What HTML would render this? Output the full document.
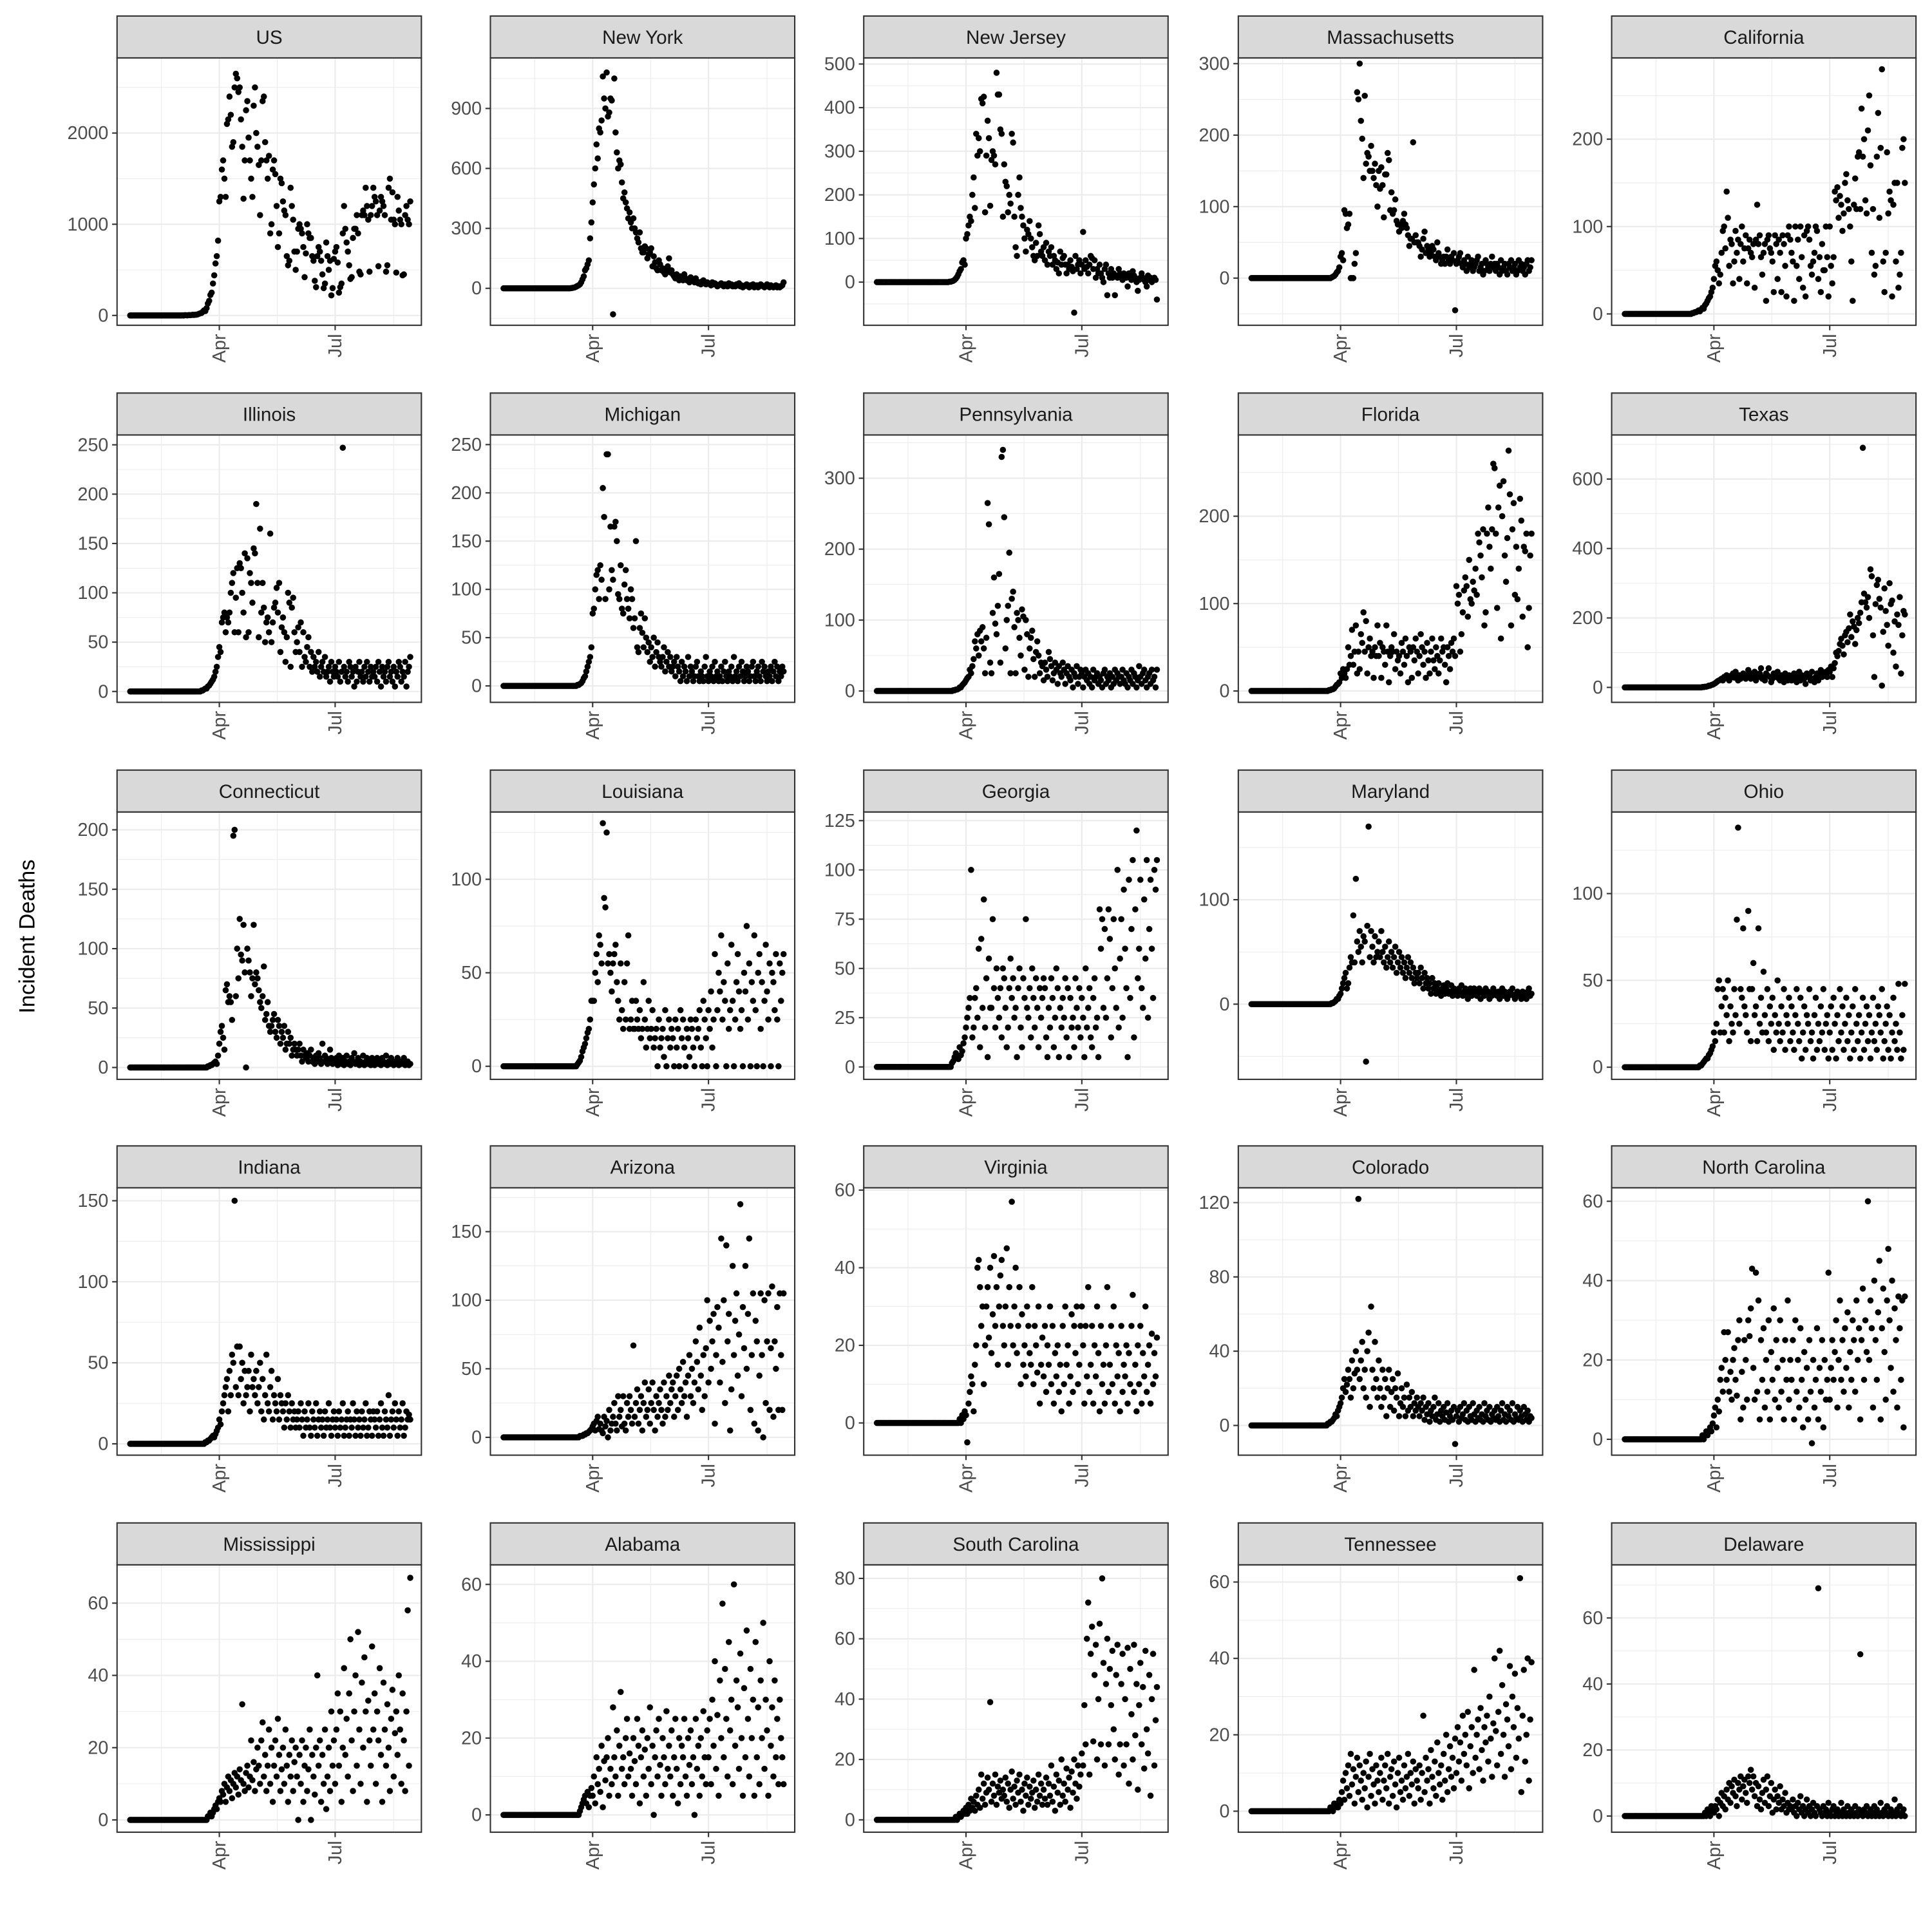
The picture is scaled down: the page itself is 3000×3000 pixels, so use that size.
<!DOCTYPE html>
<html><head><meta charset="utf-8"><title>Incident Deaths by State</title>
<style>
html,body{margin:0;padding:0;background:#fff;}
svg{display:block;}
text{font-family:"Liberation Sans",Arial,sans-serif;}
</style></head>
<body>
<svg id="chart" xmlns="http://www.w3.org/2000/svg" width="3000" height="3000" viewBox="0 0 1568 1568">
<rect x="0" y="0" width="1568" height="1568" fill="#fff"/>
<text x="28" y="760" font-size="18" fill="#000" text-anchor="middle" transform="rotate(-90 28 760)">Incident Deaths</text>
</svg>
<script>
const preMarch = [0,0,0,0,0,0,0,0,0,0,0,0,0,0,0,0,0,0,0,0,0,0,0,0,0,0,0,0,0,0,0,0,0,0,0,0,0,0,0];
const stateNames = ["US","New York","New Jersey","Massachusetts","California","Illinois","Michigan","Pennsylvania","Florida","Texas","Connecticut","Louisiana","Georgia","Maryland","Ohio","Indiana","Arizona","Virginia","Colorado","North Carolina","Mississippi","Alabama","South Carolina","Tennessee","Delaware"];
const yLimits = [[-108,2824],[-185,1153],[-99,514],[-66,308],[-13,293],[-11,260],[-17,260],[-16,361],[-13,293],[-43,727],[-10,215],[-7,136],[-6.3,129.4],[-72,184],[-7,147],[-7,158],[-13,182],[-8.3,60.6],[-16,128],[-4,63.4],[-3.4,70.6],[-4.5,65.1],[-4.1,84.5],[-5.5,64.5],[-4.9,76.1]];
const yTickStep = [1000,300,100,100,100,50,50,100,100,200,50,50,25,100,50,50,50,20,40,20,20,20,20,20,20];
const xTickLabels = ["Apr","Jul"];
const xTickDays = [70,161];
const xMinorDays = [24.5,115.5,207];

const US = [0,0,1,0,3,2,1,4,3,4,7,5,8,8,12,18,23,27,40,56,48,80,130,160,225,250,350,440,570,650,820,
1250,1300,1600,1700,1500,1300,2100,2150,2400,2200,1850,1900,2500,2650,2600,2450,2500,2150,1850,1280,1700,2250,2350,1950,1700,1500,1300,2300,2500,2000,
1850,1650,1100,1700,2350,2400,1900,1700,1500,1750,900,1000,1600,1700,1550,1200,750,900,1500,1450,1250,1150,1100,650,550,600,1400,1200,1050,700,500,
700,950,1000,950,900,750,420,680,1000,900,850,850,650,600,380,310,650,750,700,600,450,300,350,800,650,500,600,220,300,620,
700,750,580,250,310,350,900,1200,950,800,700,550,400,420,850,950,950,1100,900,480,450,1100,1150,1100,1400,1200,1050,480,1100,1200,1400,
1300,1250,1100,540,1150,1300,1250,1200,1100,480,550,1400,1500,1050,1350,1050,1000,470,1300,1150,1050,1000,440,450,1100,1200,1050,1000,1250];
const NY = [0,0,0,0,0,0,0,0,0,0,0,0,0,0,1,2,3,5,8,12,15,20,30,45,60,90,100,120,140,250,330,
430,520,600,720,650,800,780,840,1060,950,900,1080,860,880,950,940,-130,1050,780,680,600,640,620,530,450,480,430,400,350,380,
330,300,350,300,280,250,230,280,200,180,180,210,200,150,170,180,200,110,160,130,100,90,140,120,90,100,80,70,95,110,150,
80,90,70,60,50,70,50,40,60,50,40,70,50,40,45,30,55,40,35,30,50,35,25,30,20,35,40,25,20,30,
25,20,15,30,20,25,20,10,15,20,25,15,10,20,15,10,25,15,20,10,15,10,20,15,25,10,15,5,10,15,20,
10,5,15,10,20,5,10,15,5,10,20,15,10,5,10,20,10,5,15,10,5,10,15,5,10,5,10,15,30];
const NJ = [0,0,0,0,0,0,0,0,0,0,0,0,0,0,0,0,0,0,1,1,2,3,5,8,12,18,25,30,45,50,40,
100,110,130,150,140,200,240,170,340,290,330,300,420,410,425,160,290,370,330,175,280,300,290,270,480,430,430,350,340,150,
270,230,220,160,200,180,340,320,150,80,60,200,240,170,150,130,100,70,120,110,140,100,80,60,50,90,60,130,110,70,60,
80,50,90,40,70,60,80,40,60,50,30,45,20,70,40,55,60,40,20,40,30,50,35,25,-70,60,30,40,50,20,
40,115,30,50,35,20,40,60,55,30,50,10,30,20,40,20,10,0,30,40,-30,20,10,30,10,20,-30,15,10,30,20,
10,5,20,15,10,-10,20,10,5,25,15,10,0,-20,5,10,20,10,5,0,-10,15,5,10,0,5,10,5,-40];
const MA = [0,0,0,0,0,0,0,0,0,0,0,0,0,0,0,0,0,0,0,0,0,0,0,0,1,2,3,5,8,10,15,
30,35,25,95,90,70,75,90,0,0,0,20,35,260,250,300,220,195,140,255,160,175,170,150,185,150,140,160,130,100,
150,125,155,130,85,145,145,175,165,95,120,90,95,110,80,75,65,75,70,80,90,75,70,60,45,55,55,190,50,60,50,
50,45,30,40,55,65,35,45,40,30,35,45,40,30,25,50,35,30,20,25,30,20,30,40,25,20,30,25,35,-45,
20,25,30,35,20,15,25,20,10,30,15,20,25,10,15,20,25,30,10,15,20,5,10,25,20,15,10,20,30,15,20,
10,20,15,5,25,10,15,20,10,5,20,15,25,10,15,20,5,10,25,15,20,10,15,5,20,25,10,15,25];
const CA = [0,0,0,0,0,0,0,0,0,0,0,0,0,0,1,1,2,2,3,4,3,5,7,6,10,12,15,18,20,25,30,
40,55,60,50,35,45,70,95,100,75,140,110,55,85,80,35,60,95,70,85,40,80,100,60,75,90,35,75,85,70,
65,80,30,85,125,80,90,65,45,70,80,15,85,90,75,70,60,25,90,80,40,85,70,25,90,80,55,20,90,100,85,
70,60,15,100,55,85,40,100,65,30,90,20,95,100,85,55,45,60,70,100,95,40,65,25,80,50,50,100,65,20,
100,55,35,65,140,130,145,110,135,125,95,115,150,160,130,120,100,60,15,125,155,120,180,185,120,235,180,200,130,115,210,
250,170,70,120,45,55,180,230,110,190,280,60,25,70,185,115,140,130,20,125,150,60,150,30,45,70,190,200,150];
const IL = [0,0,0,0,0,0,0,0,0,0,0,0,0,0,0,0,0,1,1,2,3,3,5,6,8,10,12,15,20,25,35,
45,40,70,75,80,60,75,70,80,100,110,120,60,95,125,60,130,125,100,80,140,55,135,60,120,110,90,145,140,190,
110,55,165,80,110,85,50,70,75,60,160,50,70,85,90,105,80,110,40,65,75,60,30,55,100,90,25,85,95,60,40,
50,65,40,70,25,60,35,30,45,55,25,40,20,35,25,30,20,40,15,25,30,20,35,15,20,25,10,30,20,15,
25,20,15,30,10,20,247,25,15,20,10,30,25,15,20,5,25,10,20,30,15,20,10,25,15,30,20,10,25,15,20,
15,25,10,30,20,5,25,15,20,10,25,30,15,20,10,25,5,20,15,30,25,10,20,15,30,5,20,25,35];
const MI = [0,0,0,0,0,0,0,0,0,0,0,0,0,0,0,0,0,0,0,1,1,2,3,5,8,10,15,20,25,30,40,
75,80,100,115,120,90,125,110,205,175,90,240,240,100,165,120,110,165,170,150,95,90,125,80,75,105,120,90,80,70,
100,90,60,70,150,40,35,60,75,55,40,70,50,35,45,25,40,30,50,20,35,45,30,25,20,30,40,15,25,35,20,
30,15,20,25,10,30,20,15,5,25,10,20,15,5,30,10,20,15,5,10,20,25,10,5,15,10,5,20,30,10,
5,15,10,20,5,25,10,15,5,10,20,5,15,25,10,5,15,10,20,5,30,10,15,5,20,10,25,15,5,10,20,
15,5,10,20,25,10,5,15,20,10,5,25,15,20,10,5,15,10,20,5,15,25,10,20,5,15,10,20,15];
const PA = [0,0,0,0,0,0,0,0,0,0,0,0,0,0,0,0,0,0,0,0,0,1,1,2,2,3,5,5,8,10,12,
15,18,20,30,25,35,45,70,60,80,50,85,70,90,60,25,75,265,235,40,25,110,160,95,80,120,165,40,330,340,
245,60,100,120,195,25,130,140,90,25,110,100,75,50,115,105,30,100,80,20,60,75,85,45,20,55,70,50,25,40,35,
15,40,30,20,55,45,35,15,25,40,30,10,35,25,20,40,30,10,25,35,20,15,30,5,25,20,35,10,20,30,
25,5,20,30,15,25,10,20,5,30,15,20,25,10,20,15,5,25,30,10,20,15,25,5,20,10,30,15,25,20,10,
20,30,15,10,25,5,20,15,30,10,25,20,5,15,35,20,10,25,30,15,5,20,25,10,30,15,20,5,30];
const FL = [0,0,0,0,0,0,0,0,0,0,0,0,0,0,0,0,0,0,0,0,0,0,1,1,2,2,3,5,7,8,10,
20,15,25,20,15,25,50,30,40,70,30,45,75,20,45,25,65,55,90,45,80,20,50,60,40,45,15,50,40,75,
40,55,15,50,45,30,75,45,10,40,50,45,65,25,45,35,40,20,55,45,30,60,40,10,50,45,15,50,35,60,45,
20,40,65,50,30,45,15,55,35,20,45,60,35,25,50,40,20,35,60,45,50,30,10,50,40,25,55,45,60,40,
120,100,110,45,65,90,115,130,120,85,150,105,100,125,115,140,110,180,170,155,130,185,75,90,180,210,165,140,185,260,255,
180,95,210,235,60,200,240,155,125,175,275,225,75,185,215,110,165,105,140,220,195,85,165,160,180,50,95,155,180];
const TX = [0,0,0,0,0,0,0,0,0,0,0,0,0,0,0,0,0,0,0,0,0,0,1,1,2,2,3,5,5,7,8,
10,12,15,18,20,22,25,20,30,28,35,25,20,30,35,40,28,45,30,20,35,25,30,40,30,25,35,50,30,25,
40,30,45,20,35,30,40,55,25,30,20,40,35,55,30,15,25,40,35,30,45,25,20,35,30,15,40,25,20,35,30,
20,35,40,25,15,30,45,20,35,30,25,10,40,30,35,20,45,25,15,30,40,20,35,50,30,40,35,45,30,50,
45,60,30,55,70,100,90,105,125,140,120,95,150,160,130,170,210,145,190,175,125,165,200,185,215,245,690,270,245,230,260,
200,340,320,150,30,240,295,310,255,230,5,160,285,220,180,120,300,240,250,100,190,60,210,180,260,40,150,220,210];
const CT = [0,0,0,0,0,0,0,0,0,0,0,0,0,0,0,0,0,0,0,0,0,0,1,1,2,2,3,4,5,3,10,
20,30,35,25,15,65,70,55,60,55,40,195,200,60,100,75,125,95,90,120,80,0,100,90,80,60,75,120,70,80,
75,65,55,50,60,85,40,45,55,35,30,35,40,45,30,25,40,35,20,30,25,35,15,20,30,20,25,10,15,20,15,
10,15,20,10,5,15,10,8,12,5,10,15,5,8,3,10,5,12,8,3,20,5,10,8,3,5,15,8,3,5,
5,8,2,10,5,3,8,2,5,10,3,5,2,8,5,12,3,5,8,2,5,3,10,2,5,8,3,5,2,8,5,
2,5,8,3,5,2,8,5,3,10,2,5,3,8,5,2,5,3,8,2,5,3,5,8,2,3,5,2,3];
const LA = [0,0,0,0,0,0,0,0,0,0,0,0,0,0,0,0,0,0,0,1,2,3,5,8,10,12,15,18,20,25,35,
35,35,50,60,45,70,65,55,130,90,85,125,55,60,50,40,55,60,65,45,35,25,55,30,20,45,25,55,70,20,
25,35,20,20,35,25,20,30,15,20,45,25,10,20,35,15,20,30,10,15,20,0,25,10,15,20,5,30,0,15,25,
10,20,15,0,25,10,20,0,30,15,25,10,0,20,15,5,25,20,10,0,25,15,20,30,10,0,35,25,15,0,
30,20,40,10,25,60,0,30,50,40,70,25,45,35,0,55,20,30,65,35,0,25,45,60,40,20,30,0,50,40,75,
25,55,0,45,35,70,30,0,50,60,20,45,0,35,65,40,25,55,0,50,45,30,60,25,0,55,35,50,60];
const GA = [0,0,0,0,0,0,0,0,0,0,0,0,0,0,0,0,0,0,0,0,2,3,5,7,5,4,10,6,8,12,15,
20,25,30,35,100,15,20,35,40,25,60,10,65,30,85,20,45,5,55,30,30,75,40,20,50,35,25,40,15,50,
45,30,10,20,40,55,35,45,25,30,5,40,50,20,10,45,35,75,30,25,40,15,50,35,20,45,30,10,40,25,35,
45,40,15,5,30,20,45,35,10,25,50,40,5,30,20,35,25,45,15,40,5,35,20,25,10,45,30,20,40,15,
35,25,5,50,20,30,40,15,10,35,45,20,25,5,80,60,75,30,70,25,45,80,65,15,40,75,50,30,100,20,55,
75,25,90,60,40,5,95,35,70,105,15,80,120,45,60,95,40,30,85,55,105,25,70,95,60,35,100,90,105];
const MD = [0,0,0,0,0,0,0,0,0,0,0,0,0,0,0,0,0,0,0,0,0,0,0,0,1,1,2,3,5,5,8,
10,15,20,25,30,15,20,35,45,40,85,40,120,60,50,70,55,40,65,60,-55,75,170,45,70,55,40,65,45,50,
60,45,70,50,40,55,35,45,60,40,50,35,45,55,30,40,50,35,45,30,40,25,35,45,30,40,25,35,20,30,25,
30,20,35,25,15,30,20,25,15,20,10,25,15,20,10,15,20,12,8,15,18,10,15,20,10,12,18,8,15,10,
12,8,15,10,18,8,12,15,10,5,12,15,8,10,15,12,8,10,15,5,12,10,8,15,10,12,5,10,8,15,12,
10,8,12,5,10,15,8,12,10,5,8,12,10,15,8,5,10,12,8,10,5,12,8,10,5,12,15,8,10];
const OH = [0,0,0,0,0,0,0,0,0,0,0,0,0,0,0,0,0,0,0,0,1,1,2,3,4,5,5,7,8,10,12,
20,15,25,45,50,20,35,45,20,40,30,50,15,35,25,20,45,30,85,138,25,45,40,80,35,30,20,90,45,15,
45,60,30,35,15,80,25,40,20,55,30,20,45,15,35,25,40,10,30,20,50,25,15,35,20,45,10,30,25,40,15,
35,20,10,30,45,25,15,40,5,20,35,10,30,25,45,15,20,5,30,40,10,25,15,35,20,45,10,25,30,5,
20,35,10,40,25,5,30,15,45,20,35,10,25,40,15,30,5,20,35,10,45,25,15,30,5,20,40,10,25,35,15,
30,5,20,40,15,25,10,35,30,20,45,5,15,25,35,10,30,5,20,40,15,25,10,48,20,5,30,10,48];
const IN = [0,0,0,0,0,0,0,0,0,0,0,0,0,0,0,0,0,0,0,0,1,1,2,2,3,4,5,4,6,8,10,
15,12,20,25,30,35,40,20,45,30,55,50,150,35,60,30,60,40,50,25,45,30,35,45,20,55,35,40,30,45,
25,35,50,20,40,15,30,55,25,20,35,45,15,30,25,20,40,15,30,25,20,10,25,15,30,20,10,25,15,20,10,
15,20,10,25,15,5,20,10,15,25,10,5,20,15,10,25,5,15,20,10,15,5,20,10,15,25,10,5,15,20,
10,15,5,20,10,15,25,5,10,15,20,5,15,10,25,15,5,20,10,15,5,20,10,15,25,5,10,20,15,5,20,
15,10,20,5,15,25,10,5,20,15,10,30,5,15,20,10,25,15,5,20,10,15,25,5,10,20,15,18,15];
const AZ = [0,0,0,0,0,0,0,0,0,0,0,0,0,0,0,0,0,0,0,0,0,1,1,1,2,2,3,3,4,5,6,
8,10,5,12,15,6,10,5,3,15,8,12,0,20,5,10,15,25,10,5,30,15,20,8,30,10,5,25,15,30,
20,10,67,15,25,35,10,20,30,5,25,40,15,20,35,10,25,40,20,5,30,15,25,35,20,10,40,15,30,20,45,
25,35,40,15,30,45,20,50,35,25,55,30,40,15,45,60,30,50,25,40,70,55,35,80,45,20,60,30,65,100,
40,85,50,70,90,10,60,95,80,40,145,55,100,25,140,70,90,5,35,125,60,85,105,45,75,170,30,95,65,125,50,
90,145,20,60,105,10,85,70,5,45,105,60,0,100,25,70,105,20,65,110,15,70,50,95,20,105,60,20,105];
const VA = [0,0,0,0,0,0,0,0,0,0,0,0,0,0,0,0,0,0,0,0,0,0,0,0,0,0,1,0,2,1,3,
2,-5,5,8,12,10,3,15,20,40,42,35,25,30,10,20,30,35,22,40,18,28,43,25,35,15,30,38,42,25,
20,30,45,15,35,25,57,20,30,40,18,25,35,10,28,15,20,12,30,25,18,15,35,10,25,20,13,30,5,15,22,
12,25,8,20,15,30,10,25,5,18,12,20,8,15,3,25,10,30,15,20,5,12,28,8,25,18,30,10,15,25,
30,20,5,25,12,35,8,15,25,5,20,12,30,18,3,25,10,15,5,20,35,8,15,25,10,30,5,20,12,18,3,
25,8,15,12,20,5,18,10,25,33,8,15,3,20,10,25,5,18,12,30,8,15,20,5,23,10,18,12,22];
const CO = [0,0,0,0,0,0,0,0,0,0,0,0,0,0,0,0,0,0,0,0,0,1,1,2,2,3,4,6,5,8,10,
12,15,20,25,18,22,30,25,15,35,20,28,40,30,122,25,35,45,20,30,15,40,50,10,64,30,20,45,25,15,
35,20,10,30,15,25,5,20,30,10,18,25,8,20,15,28,5,12,20,10,15,5,22,8,15,10,18,5,12,8,15,
10,5,12,8,15,3,10,6,12,2,8,5,10,15,3,6,12,2,8,5,10,3,7,12,2,5,8,3,10,-10,
5,8,2,10,4,6,12,3,8,2,10,5,3,12,6,2,8,4,10,3,6,2,12,5,8,3,10,2,6,4,8,
3,10,5,2,8,12,3,6,2,10,5,8,3,12,2,6,4,10,3,8,5,2,10,6,3,8,2,5,4];
const NC = [0,0,0,0,0,0,0,0,0,0,0,0,0,0,0,0,0,0,0,0,0,0,1,0,1,2,1,2,3,2,4,
6,8,3,10,7,15,18,12,27,20,15,27,12,17,10,20,23,15,11,25,30,5,17,8,25,20,10,30,26,33,
43,18,10,42,12,35,5,25,15,28,8,20,12,30,5,22,15,33,10,25,18,8,30,12,20,5,25,15,35,10,20,
15,25,5,30,12,20,8,28,15,3,22,10,18,5,25,12,-1,20,8,15,28,5,18,12,25,3,20,10,15,42,
10,18,25,15,22,30,8,20,35,15,25,12,28,18,32,8,22,15,30,25,12,35,20,28,5,25,38,15,30,22,60,
20,35,28,8,40,25,15,32,45,5,28,38,22,10,35,48,30,18,40,12,33,25,8,36,28,15,35,3,36];
const MS = [0,0,0,0,0,0,0,0,0,0,0,0,0,0,0,0,0,0,0,0,0,0,1,1,2,1,2,3,4,3,5,
6,5,8,7,10,5,9,12,8,11,6,10,13,9,12,7,14,11,32,10,8,13,15,9,12,22,11,16,8,14,
20,15,10,22,27,12,18,8,15,25,10,20,5,15,22,12,28,18,8,14,20,10,25,15,5,18,12,22,8,16,20,
12,0,18,10,22,5,15,20,8,14,25,0,18,12,7,20,40,15,22,5,18,10,25,3,12,20,8,30,15,22,
10,25,35,15,30,5,20,42,18,28,12,35,50,22,8,30,40,15,52,25,10,38,20,45,30,5,33,22,15,48,25,
35,10,30,22,42,18,5,38,25,15,32,20,8,28,36,12,24,30,18,40,25,10,35,22,8,30,58,15,67];
const AL = [0,0,0,0,0,0,0,0,0,0,0,0,0,0,0,0,0,0,0,0,0,1,2,3,4,5,3,6,2,5,7,
5,10,3,15,8,12,6,18,2,14,9,15,20,5,12,8,28,15,10,22,5,18,32,12,15,8,20,25,10,16,
12,5,20,14,8,25,18,3,15,22,10,17,5,20,12,28,8,18,0,15,22,10,25,13,5,20,15,8,27,12,18,
10,22,5,15,25,12,3,20,8,18,15,25,10,5,20,13,22,8,15,0,25,12,18,5,20,10,27,15,8,22,
15,25,8,30,18,40,12,26,5,35,20,55,15,38,25,10,45,22,30,8,60,18,35,28,12,42,20,5,33,15,48,
25,10,38,20,30,5,45,15,28,8,35,20,50,12,30,22,5,40,18,28,10,35,15,25,8,30,20,15,8];
const SC = [0,0,0,0,0,0,0,0,0,0,0,0,0,0,0,0,0,0,0,0,0,0,0,1,0,1,2,1,2,3,2,
4,2,5,3,7,4,6,3,8,5,10,4,15,7,12,5,9,14,10,39,6,12,8,15,5,11,9,13,7,10,
8,14,6,12,4,10,16,7,11,5,13,9,15,6,10,3,12,8,14,5,11,7,9,13,4,10,6,15,8,12,5,
10,7,14,5,12,8,18,6,11,3,15,9,13,5,20,8,12,6,17,10,14,4,16,9,20,12,7,18,11,15,
22,18,38,25,60,72,15,55,64,26,48,58,20,40,65,25,80,52,18,45,60,25,50,38,56,30,20,48,58,15,25,
45,55,18,40,25,57,12,50,35,20,58,28,45,10,38,52,25,44,17,56,30,22,48,8,40,55,18,33,44];
const TN = [0,0,0,0,0,0,0,0,0,0,0,0,0,0,0,0,0,0,0,0,0,0,0,1,1,0,2,1,2,1,3,
2,5,8,3,10,6,12,4,15,7,11,2,9,14,5,12,8,3,10,6,13,1,9,15,4,11,7,2,12,8,
5,10,14,3,8,12,6,15,2,9,11,4,13,7,1,10,14,5,8,3,12,6,9,15,4,10,7,13,2,11,8,
6,12,3,10,25,5,14,8,11,2,16,9,6,13,4,18,10,7,12,3,15,8,20,5,11,17,9,14,6,19,
10,22,13,18,8,25,15,20,12,26,6,17,22,10,37,14,20,24,11,27,16,8,22,18,25,13,30,19,9,23,40,
21,12,26,42,15,33,20,9,28,24,17,38,11,30,22,36,14,27,19,61,5,25,37,13,20,40,8,24,39];
const DE = [0,0,0,0,0,0,0,0,0,0,0,0,0,0,0,0,0,0,0,0,0,0,0,0,1,0,2,1,0,3,2,
1,3,2,5,0,4,7,3,6,2,8,5,10,4,9,7,11,6,3,10,8,12,5,9,11,7,4,12,10,14,
8,12,6,10,3,9,5,2,7,11,4,8,12,3,6,10,1,5,8,2,6,4,9,2,5,3,7,1,4,2,3,
2,5,1,3,0,4,2,6,1,3,0,2,5,1,3,0,2,4,1,0,3,69,2,1,0,3,1,2,0,4,
1,0,2,3,0,1,2,0,1,4,0,2,1,0,3,1,0,2,1,0,3,1,0,2,49,1,0,2,1,3,0,
1,2,0,1,3,0,2,1,0,4,1,0,2,1,3,0,1,2,0,1,5,0,2,1,3,0,1,2,0];

const seriesList = [US,NY,NJ,MA,CA,IL,MI,PA,FL,TX,CT,LA,GA,MD,OH,IN,AZ,VA,CO,NC,MS,AL,SC,TN,DE];

(function(){
  const svg = document.getElementById('chart');
  const NS = 'http://www.w3.org/2000/svg';
  const colLeft = [95,398,701,1005,1308];
  const rowTop = [13,319,625,930,1236];
  const W = 247, STRIP = 34, H = 217;
  function mk(tag, attrs, parent){
    const e = document.createElementNS(NS, tag);
    for (const k in attrs) e.setAttribute(k, attrs[k]);
    parent.appendChild(e);
    return e;
  }
  stateNames.forEach(function(name, i){
    const col = i % 5, row = Math.floor(i / 5);
    const L = colLeft[col], sT = rowTop[row], T = sT + STRIP, B = T + H;
    const lo = yLimits[i][0], hi = yLimits[i][1];
    const xs = function(d){ return L + 83 + (d - 70) * 1.033; };
    const ys = function(v){ return B - (v - lo) / (hi - lo) * H; };
    const slug = name.toLowerCase().replace(/\s+/g,'-');
    const g = mk('g', {}, svg);
    
    
    mk('rect', {x:L, y:T, width:W, height:H, fill:'#fff'}, g);
    const grid = mk('g', {}, g);
    
    
    const step = yTickStep[i];
    const half = step / 2;
    let start = Math.ceil(lo / half) * half;
    for (let v = start; v <= hi; v += half) {
      const major = Math.abs(v / step - Math.round(v / step)) < 1e-6;
      mk('line', {x1:L, x2:L+W, y1:ys(v), y2:ys(v), stroke:'#ebebeb', 'stroke-width': major ? 1.1 : 0.55}, grid);
    }
    xMinorDays.forEach(function(d){
      const x = xs(d);
      if (x > L && x < L + W) mk('line', {x1:x, x2:x, y1:T, y2:B, stroke:'#ebebeb', 'stroke-width':0.55}, grid);
    });
    xTickDays.forEach(function(d){
      mk('line', {x1:xs(d), x2:xs(d), y1:T, y2:B, stroke:'#ebebeb', 'stroke-width':1.1}, grid);
    });
    const pts = mk('g', {}, g);
    
    
    const full = preMarch.concat(seriesList[i]);
    full.forEach(function(v, d){
      const c = mk('circle', {cx:xs(d).toFixed(2), cy:ys(v).toFixed(2), r:2.5, fill:'#000'}, pts);
      
      
    });
    const frame = mk('rect', {x:L, y:T, width:W, height:H, fill:'none', stroke:'#333', 'stroke-width':1.1}, g);
    
    
    const strip = mk('rect', {x:L, y:sT, width:W, height:STRIP, fill:'#d9d9d9', stroke:'#333', 'stroke-width':1.1}, g);
    
    
    const st = mk('text', {x:L + W/2, y:sT + STRIP/2 + 5.5, 'font-size':15.5, fill:'#1a1a1a', 'text-anchor':'middle'}, g);
    st.textContent = name;
    
    
    for (let v = Math.ceil(lo / step) * step; v <= hi; v += step) {
      const y = ys(v);
      mk('line', {x1:L-4, x2:L, y1:y, y2:y, stroke:'#333', 'stroke-width':1.1}, g);
      const t = mk('text', {x:L-7, y:y + 5, 'font-size':15, fill:'#4d4d4d', 'text-anchor':'end'}, g);
      t.textContent = String(Math.round(v));
      
      
    }
    xTickDays.forEach(function(d, k){
      const x = xs(d);
      mk('line', {x1:x, x2:x, y1:B, y2:B+4, stroke:'#333', 'stroke-width':1.1}, g);
      const t = mk('text', {x:x + 5, y:B + 7, 'font-size':15, fill:'#4d4d4d', 'text-anchor':'end', transform:'rotate(-90 ' + (x+5) + ' ' + (B+7) + ')'}, g);
      t.textContent = xTickLabels[k];
      
      
    });
  });
})();
</script>
</body></html>
